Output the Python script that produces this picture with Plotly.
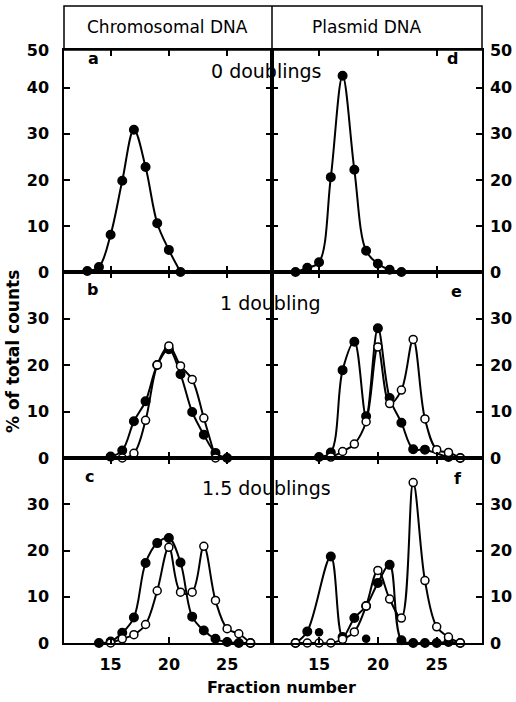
import plotly.graph_objects as go

# ---------------- data ----------------
# Panel a: chromosomal DNA, 0 doublings (filled)
a_x = [13, 14, 15, 16, 17, 18, 19, 20, 21]
a_filled = [0.2, 1.1, 8.1, 19.8, 30.9, 22.8, 10.6, 4.8, 0]

# Panel d: plasmid DNA, 0 doublings (filled)
d_x = [13, 14, 15, 16, 17, 18, 19, 20, 21, 22]
d_filled = [0, 0.9, 2.1, 20.6, 42.6, 22.2, 4.6, 1.8, 0.5, 0]

# Panel b: chromosomal DNA, 1 doubling
b_x_filled = [15, 16, 17, 18, 19, 20, 21, 22, 23, 24, 25]
b_filled = [0.3, 1.6, 7.9, 12.2, 20.0, 23.4, 18.0, 9.9, 5.0, 1.1, 0]
b_x_open = [16, 17, 18, 19, 20, 21, 22, 23, 24]
b_open = [0, 1.0, 8.1, 20.0, 24.1, 19.8, 16.9, 8.6, 0]

# Panel e: plasmid DNA, 1 doubling
e_x_filled = [15, 16, 17, 18, 19, 20, 21, 22, 23, 24, 26, 27]
e_filled = [0.2, 1.2, 18.9, 25.0, 9.0, 27.9, 12.9, 7.6, 1.9, 1.8, 0.2, 0]
e_x_open = [16, 17, 18, 19, 20, 21, 22, 23, 24, 25, 26, 27]
e_open = [0.2, 1.4, 3.0, 7.8, 23.9, 11.7, 14.6, 25.5, 8.4, 1.8, 1.2, 0]

# Panel c: chromosomal DNA, 1.5 doublings
c_x_filled = [14, 15, 16, 17, 18, 19, 20, 21, 22, 23, 24, 25, 26, 27]
c_filled = [0, 0.3, 2.2, 5.5, 17.3, 21.6, 22.7, 17.4, 5.7, 2.7, 0.9, 0.2, 0, 0]
c_x_open = [15, 16, 17, 18, 19, 20, 21, 22, 23, 24, 25, 26, 27]
c_open = [0, 0.9, 1.8, 4.0, 11.3, 20.7, 11.0, 11.0, 20.9, 9.2, 3.1, 2.0, 0]

# Panel f: plasmid DNA, 1.5 doublings
f_x_filled = [13, 14, 16, 17, 18, 19, 20, 21, 22, 23, 24, 25, 26, 27]
f_filled = [0, 2.5, 18.7, 1.3, 5.4, 8.0, 13.0, 16.9, 0.6, 0, 0, 0, 0.2, 0]
f_x_stray = [15, 19]
f_stray = [2.3, 0.9]
f_x_open = [13, 14, 15, 16, 17, 18, 19, 20, 21, 22, 23, 24, 25, 26, 27]
f_open = [0, 0, 0, 0, 0.8, 2.4, 8.0, 15.7, 9.5, 5.4, 34.7, 13.5, 3.5, 1.3, 0]

x_ticks = [15, 20, 25]
y_ticks_top = [0, 10, 20, 30, 40, 48.2]
y_text_top = ["0", "10", "20", "30", "40", "50"]
y_ticks_low = [0, 10, 20, 30]
y_text_low = ["0", "10", "20", "30"]

col_titles = ["Chromosomal DNA", "Plasmid DNA"]
row_titles = ["0 doublings", "1 doubling", "1.5 doublings"]
panel_letters = ["a", "d", "b", "e", "c", "f"]

# ---------------- figure ----------------
FONT = "DejaVu Sans"
fig = go.Figure()


def curve(x, y, xa, ya, open_=False):
    fig.add_trace(go.Scatter(
        x=x, y=y, xaxis=xa, yaxis=ya, mode="lines+markers",
        line=dict(color="black", width=2, shape="spline", smoothing=1),
        marker=dict(symbol="circle", size=8.5 if not open_ else 8,
                    color="white" if open_ else "black",
                    line=dict(color="black", width=1.5)),
        cliponaxis=False, showlegend=False, hoverinfo="skip"))


def dots(x, y, xa, ya):
    fig.add_trace(go.Scatter(
        x=x, y=y, xaxis=xa, yaxis=ya, mode="markers",
        marker=dict(symbol="circle", size=8.5, color="black"),
        cliponaxis=False, showlegend=False, hoverinfo="skip"))


curve(a_x, a_filled, "x", "y")
curve(d_x, d_filled, "x2", "y2")
curve(b_x_filled, b_filled, "x3", "y3")
curve(b_x_open, b_open, "x3", "y3", open_=True)
curve(e_x_filled, e_filled, "x4", "y4")
curve(e_x_open, e_open, "x4", "y4", open_=True)
curve(c_x_filled, c_filled, "x5", "y5")
curve(c_x_open, c_open, "x5", "y5", open_=True)
curve(f_x_filled, f_filled, "x6", "y6")
dots(f_x_stray, f_stray, "x6", "y6")
curve(f_x_open, f_open, "x6", "y6", open_=True)

XL = [0, 0.4976]
XR = [0.4976, 1]
Y_DOM = [[0.5824, 0.9309], [0.2904, 0.5824], [0.0, 0.2904]]
Y_RANGE = [[0, 48.2], [0, 40], [0, 40]]

tickfont = dict(family=FONT, size=16, color="black", weight="bold")

layout = dict(
    width=516, height=702,
    margin=dict(l=64, r=34, t=6, b=59, autoexpand=False),
    paper_bgcolor="white", plot_bgcolor="white",
    showlegend=False,
)

for i in range(6):
    row, col = divmod(i, 2)
    n = i + 1
    xk = "xaxis" if n == 1 else f"xaxis{n}"
    yk = "yaxis" if n == 1 else f"yaxis{n}"
    xid = "x" if n == 1 else f"x{n}"
    yid = "y" if n == 1 else f"y{n}"
    layout[xk] = dict(
        domain=XL if col == 0 else XR, anchor=yid,
        range=[11.0, 28.85], tickvals=x_ticks,
        showticklabels=(row == 2), tickfont=tickfont,
        ticks="inside", ticklen=6, tickwidth=1.5, tickcolor="black",
        ticklabelstandoff=6, automargin=False,
        showline=True, linecolor="black", linewidth=1.5, mirror="ticks",
        showgrid=False, zeroline=False, fixedrange=True)
    tv = y_ticks_top if row == 0 else y_ticks_low
    tt = y_text_top if row == 0 else y_text_low
    layout[yk] = dict(
        domain=Y_DOM[row], anchor=xid, range=Y_RANGE[row],
        side="left" if col == 0 else "right",
        tickvals=tv, ticktext=tt, tickfont=tickfont,
        ticks="inside", ticklen=6, tickwidth=1.5, tickcolor="black",
        ticklabelstandoff=10 if col == 0 else 3, automargin=False,
        showline=True, linecolor="black", linewidth=1.5, mirror="ticks",
        showgrid=False, zeroline=False, fixedrange=True)

shapes = [
    dict(type="rect", xref="paper", yref="paper", x0=0, x1=1, y0=0.9309, y1=1,
         line=dict(color="black", width=1.5)),
    dict(type="line", xref="paper", yref="paper", x0=0.4976, x1=0.4976,
         y0=0.9309, y1=1, line=dict(color="black", width=1.5)),
]
layout["shapes"] = shapes

ann = []


def text(t, x, y, size=16, weight="normal"):
    ann.append(dict(text=t, x=x, y=y, xref="paper", yref="paper",
                    xanchor="center", yanchor="middle", showarrow=False,
                    font=dict(family=FONT, size=size, color="black", weight=weight)))


text(col_titles[0], 0.2488, 0.967, size=17)
text(col_titles[1], 0.725, 0.967, size=17)
text(row_titles[0], 0.4844, 0.898, size=19)
text(row_titles[1], 0.4952, 0.5338, size=19)
text(row_titles[2], 0.4856, 0.2433, size=19)
letter_pos = [(0.0694, 0.9168), (0.929, 0.9168), (0.0670, 0.5542), (0.940, 0.5513),
              (0.0622, 0.2611), (0.943, 0.2590)]
for lt, (px, py) in zip(panel_letters, letter_pos):
    text(lt, px, py, size=16, weight="bold")
text("Fraction number", 0.5215, -0.0706, size=16, weight="bold")
ann.append(dict(text="% of total counts", x=-0.122, y=0.4568, xref="paper", yref="paper",
                xanchor="center", yanchor="middle", showarrow=False, textangle=-90,
                font=dict(family=FONT, size=17, color="black", weight="bold")))
layout["annotations"] = ann

fig.update_layout(**layout)
fig.write_html("out.html", config={"displayModeBar": False},
               post_script="document.body.style.margin='0';")
